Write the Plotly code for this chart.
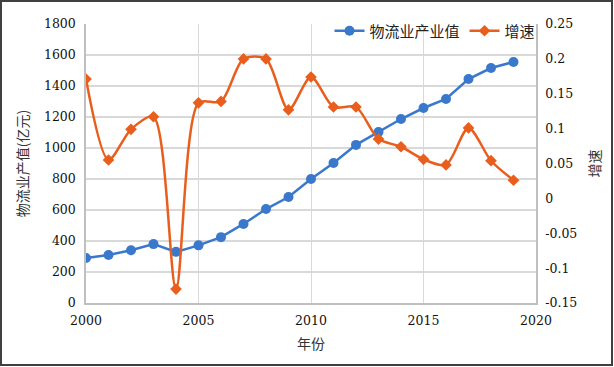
import plotly.graph_objects as go

years = list(range(2000, 2020))
output_value = [290, 310, 340, 380, 330, 372, 425, 510, 606, 684, 800, 903, 1020, 1103, 1187, 1258, 1316, 1445, 1516, 1555]
growth = [0.171, 0.055, 0.099, 0.117, -0.130, 0.137, 0.139, 0.200, 0.200, 0.127, 0.174, 0.131, 0.131, 0.085, 0.074, 0.056, 0.048, 0.101, 0.054, 0.026]

left_ticks = [0, 200, 400, 600, 800, 1000, 1200, 1400, 1600, 1800]
right_ticks = [-0.15, -0.1, -0.05, 0, 0.05, 0.1, 0.15, 0.2, 0.25]
right_labels = ["-0.15", "-0.1", "-0.05", "0", "0.05", "0.1", "0.15", "0.2", "0.25"]
x_ticks = [2000, 2005, 2010, 2015, 2020]

BLUE = "#3A78CC"
ORANGE = "#E95E1C"
SERIF = "DejaVu Serif"
CJK = "Noto Sans CJK SC"
TS = 12.5

fig = go.Figure()
fig.add_trace(go.Scatter(
    x=years, y=output_value, name="物流业产业值", mode="lines+markers",
    line=dict(color=BLUE, width=2.5), marker=dict(symbol="circle", size=10, color=BLUE),
    yaxis="y"))
fig.add_trace(go.Scatter(
    x=years, y=growth, name="增速", mode="lines+markers",
    line=dict(color=ORANGE, width=2.5, shape="spline", smoothing=0.8),
    marker=dict(symbol="diamond", size=9, color=ORANGE),
    yaxis="y2"))

W, H = 614, 367
ml, mr, mt, mb = 86, 78, 24, 64
pw, ph = W - ml - mr, H - mt - mb

fig.update_layout(
    width=W, height=H,
    margin=dict(l=ml, r=mr, t=mt, b=mb),
    paper_bgcolor="white", plot_bgcolor="white",
    font=dict(family=SERIF, size=TS, color="#111111"),
    showlegend=True,
    legend=dict(orientation="h", x=1.01, xanchor="right", y=0.975, yanchor="middle",
                bgcolor="rgba(255,255,255,0)", font=dict(size=15, family=CJK, color="#222222"),
                tracegroupgap=0),
    xaxis=dict(range=[2000, 2020], tickvals=x_ticks, ticks="", showgrid=True, ticklabelstandoff=5,
               gridcolor="#D9D9D9", gridwidth=1, showline=True, linecolor="#BFBFBF", linewidth=1.5,
               title=dict(text="年份", font=dict(size=14, family=CJK, color="#333333"), standoff=12),
               zeroline=False, tickfont=dict(size=TS, family=SERIF)),
    yaxis=dict(range=[0, 1800], tickvals=left_ticks, ticks="", showgrid=True, ticklabelstandoff=6,
               gridcolor="#D9D9D9", gridwidth=1.5, showline=True, linecolor="#BFBFBF", linewidth=1.5,
               title=dict(text="物流业产值(亿元)", font=dict(size=14, family=CJK, color="#333333"), standoff=12),
               zeroline=False, tickfont=dict(size=TS, family=SERIF)),
    yaxis2=dict(range=[-0.15, 0.25], tickvals=right_ticks, ticktext=right_labels, overlaying="y",
                side="right", showgrid=False, ticks="", showline=True, linecolor="#BFBFBF", linewidth=1.5,
                ticklabelstandoff=5,
                title=dict(text="增速", font=dict(size=14, family=CJK, color="#333333"), standoff=14),
                zeroline=False, tickfont=dict(size=TS, family=SERIF)),
)

# outer frame around the whole picture
fig.add_shape(type="rect", xref="paper", yref="paper",
              x0=(1 - ml) / pw, x1=(W - 2 - ml) / pw,
              y0=(H - mb - (H - 2)) / ph, y1=(H - mb - 1) / ph,
              line=dict(color="#404040", width=2), fillcolor="rgba(0,0,0,0)", layer="below")

fig.write_html("out.html", config={"displayModeBar": False},
               post_script="document.body.style.margin='0';document.body.style.overflow='hidden';")
